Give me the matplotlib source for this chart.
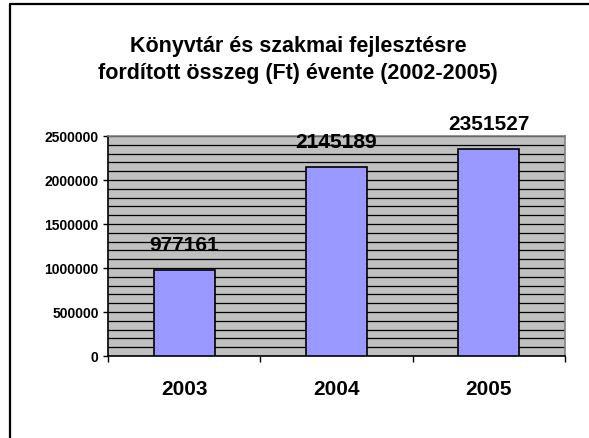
import matplotlib
matplotlib.use("Agg")
import matplotlib.pyplot as plt
from matplotlib.ticker import MultipleLocator, FixedLocator, FuncFormatter
from matplotlib.lines import Line2D

# data
years = ["2003", "2004", "2005"]
amounts = [977161, 2145189, 2351527]
title_lines = ["Könyvtár és szakmai fejlesztésre",
               "fordított összeg (Ft) évente (2002-2005)"]

plt.rcParams['font.family'] = ['Liberation Sans', 'DejaVu Sans']
plt.rcParams['font.weight'] = 'bold'

W, H = 589, 439
fig = plt.figure(figsize=(W / 100, H / 100), dpi=100)
fig.patch.set_facecolor("white")

# plot area in pixels: x 108..565, y 137..357
ax = fig.add_axes([108 / W, 1 - 357 / H, (565 - 108) / W, (357 - 137) / H])
ax.set_facecolor("#c0c0c0")
ax.set_axisbelow(True)

x = list(range(len(years)))
ax.bar(x, amounts, width=0.4, color="#9999ff", edgecolor="black", linewidth=1.2, zorder=3)

for xi, v in zip(x, amounts):
    ax.annotate(str(v), (xi, v), xytext=(0, 14.4), textcoords="offset points",
                ha="center", va="baseline", fontsize=15, fontweight="bold", zorder=4)

ax.set_xlim(-0.5, len(years) - 0.5)
ax.set_ylim(0, 2500000)

ax.yaxis.set_major_locator(MultipleLocator(500000))
ax.yaxis.set_minor_locator(MultipleLocator(100000))
ax.yaxis.set_major_formatter(FuncFormatter(lambda v, p: "%d" % v))
ax.yaxis.grid(True, which="both", color="black", linewidth=0.9)
ax.tick_params(axis="y", which="major", length=3.5, width=1, pad=3.2, labelsize=10)
ax.tick_params(axis="y", which="minor", length=0)

ax.set_xticks(x)
ax.set_xticklabels(years)
ax.xaxis.set_minor_locator(FixedLocator([-0.5, 0.5, 1.5, 2.5]))
ax.tick_params(axis="x", which="major", length=0, pad=16.5, labelsize=15)
ax.tick_params(axis="x", which="minor", length=4, width=1)

for lab in ax.get_xticklabels() + ax.get_yticklabels():
    lab.set_fontweight("bold")

ax.spines["left"].set_color("black")
ax.spines["bottom"].set_color("black")
ax.spines["left"].set_linewidth(1.2)
ax.spines["bottom"].set_linewidth(1.2)
ax.spines["top"].set_color("#808080")
ax.spines["right"].set_color("#808080")
ax.spines["top"].set_linewidth(1.2)
ax.spines["right"].set_linewidth(1.2)

# title, two lines
fig.text(298 / W, 1 - 52 / H, title_lines[0], ha="center", va="baseline",
         fontsize=15.5, fontweight="bold")
fig.text(298 / W, 1 - 79 / H, title_lines[1], ha="center", va="baseline",
         fontsize=15.5, fontweight="bold")

# chart border (only top and left edge visible in the crop)
fig.add_artist(Line2D([10 / W, 10 / W, 1.0], [0.0, 1 - 5 / H, 1 - 5 / H],
                      transform=fig.transFigure, color="black", linewidth=1.6))

fig.savefig("out.png", dpi=100)
